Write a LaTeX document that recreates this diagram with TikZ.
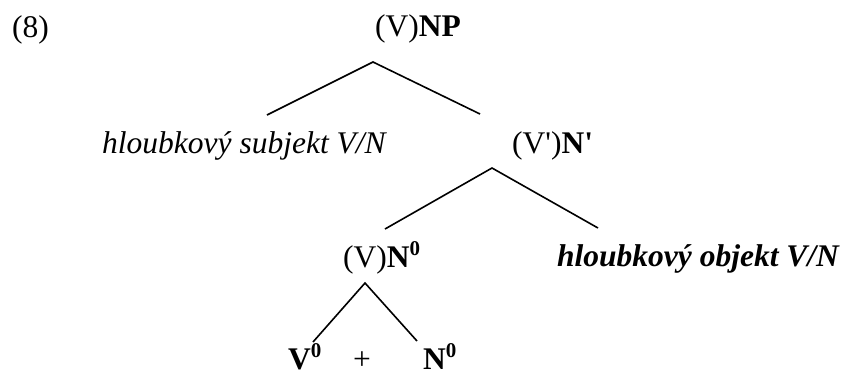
\documentclass[tikz,border=0pt]{standalone}
\usepackage{fontspec}
\setmainfont{Liberation Serif}
% bold raised zero used for the bar-level marks
\newcommand\barzero{\raisebox{0.36em}{\fontsize{21}{21}\selectfont\bfseries 0}}
\begin{document}
\begin{tikzpicture}[x=1pt,y=-1pt,
    every node/.style={inner sep=0pt,font=\fontsize{31.5}{36}\selectfont},
    label/.style={anchor=base west},
    branch/.style={line width=1.6pt,black}]
  \useasboundingbox (0,0) rectangle (844,376);

  % labels of the tree
  \node[label] (ex)   at (12,37)   {(8)};
  \node[label] (np)   at (375,36)  {(V)\textbf{NP}};
  \node[label] (subj) at (102,153) {\itshape hloubkový subjekt V/N};
  \node[label] (nbar) at (512,153) {(V\textquotesingle)\textbf{N\textquotesingle}};
  \node[label] (nzero) at (343,267) {(V)\textbf{N}\barzero};
  \node[label] (obj)  at (557,266) {\bfseries\itshape hloubkový objekt V/N};
  \node[label] (vz)   at (288,369) {\textbf{V}\barzero};
  \node[anchor=base] (plus) at (362,369) {+};
  \node[label] (nz)   at (423,369) {\textbf{N}\barzero};

  % branch end points
  \coordinate (np-top)    at (373,62);
  \coordinate (np-left)   at (267,115);
  \coordinate (np-right)  at (480,114);
  \coordinate (nbar-top)  at (492,168);
  \coordinate (nbar-left) at (385,229);
  \coordinate (nbar-right) at (598,228);
  \coordinate (nz-top)    at (365,283);
  \coordinate (nz-left)   at (313,342);
  \coordinate (nz-right)  at (417,341);

  % branches
  \draw[branch] (np-left) -- (np-top) -- (np-right);
  \draw[branch] (nbar-left) -- (nbar-top) -- (nbar-right);
  \draw[branch] (nz-left) -- (nz-top) -- (nz-right);
\end{tikzpicture}
\end{document}
